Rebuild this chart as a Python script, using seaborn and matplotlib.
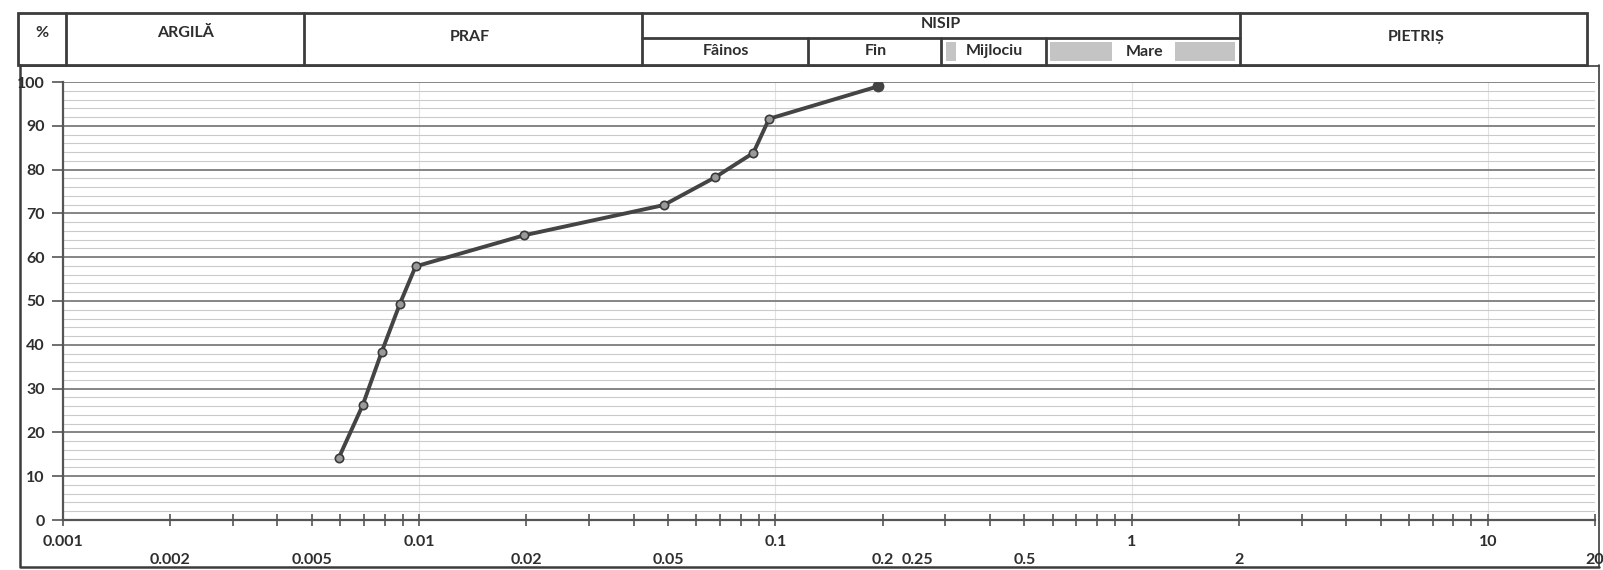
import matplotlib
matplotlib.use('Agg')
import matplotlib.pyplot as plt
from matplotlib.patches import Rectangle
from matplotlib.ticker import LogLocator, NullFormatter, MultipleLocator, FixedLocator
import matplotlib.transforms as mtransforms
import seaborn as sns
import pandas as pd

# Curba granulometrica (diametru mm / % treceri)
diametre = [0.00594, 0.00694, 0.00785, 0.00883, 0.00977, 0.0197, 0.0486, 0.0676, 0.0867, 0.096, 0.194]
treceri = [14.1, 26.2, 38.4, 49.4, 57.9, 65.0, 71.9, 78.2, 83.8, 91.6, 99.0]

# Etichete axa X (doua randuri, ca in original)
etichete_sus = [0.001, 0.01, 0.1, 1, 10]
etichete_jos = [0.002, 0.005, 0.02, 0.05, 0.2, 0.25, 0.5, 2, 20]
y_ticks = list(range(0, 101, 10))

# Capul de tabel
fractii = ['%', 'ARGILĂ', 'PRAF', 'NISIP', 'PIETRIȘ']
subfractii_nisip = ['Fâinos', 'Fin', 'Mijlociu', 'Mare']

sns.set_theme(style="white")
plt.rcParams['font.family'] = ['Lato', 'Open Sans', 'DejaVu Sans']
text_col = '#2e2e2e'
line_col = '#3c3c3c'

df = pd.DataFrame({'d': diametre, 'p': treceri})

fig = plt.figure(figsize=(16.03, 5.70), dpi=100)

# overlay in pixeli pentru tabel si chenar
ov = fig.add_axes([0, 0, 1, 1])
ov.set_xlim(0, 1603)
ov.set_ylim(570, 0)
ov.axis('off')
ov.patch.set_alpha(0)

# chenar exterior grafic
ov.plot([20, 20, 1599], [65, 567, 567], color=line_col, lw=1.8)
ov.plot([1599, 1599], [65, 567], color=line_col, lw=1.2)
ov.plot([20, 1599], [66, 66], color=line_col, lw=1.2)

# tabel fractii
top, mid, bot = 13, 38, 65
ov.add_patch(Rectangle((1050, 42), 62, 19, color='#c4c4c4', lw=0))
ov.add_patch(Rectangle((1175, 42), 60, 19, color='#c4c4c4', lw=0))
ov.add_patch(Rectangle((946, 42), 10, 19, color='#c4c4c4', lw=0))
ov.add_patch(Rectangle((18, top), 1569, bot - top, fill=False, ec=line_col, lw=2))
for x in [66, 304, 642, 1240]:
    ov.plot([x, x], [top, bot], color=line_col, lw=2)
ov.plot([642, 1240], [mid, mid], color=line_col, lw=2)
for x in [808, 941, 1046]:
    ov.plot([x, x], [mid, bot], color=line_col, lw=2)

fs = 11.5
pos_fractii = [(42, 33), (186, 33), (470, 37), (941, 24), (1416, 37)]
for t, (x, y) in zip(fractii, pos_fractii):
    ov.text(x, y, t, ha='center', va='center', fontsize=fs, color=text_col, fontweight='bold')
pos_sub = [(726, 51), (876, 51), (994, 51), (1145, 52)]
for t, (x, y) in zip(subfractii_nisip, pos_sub):
    ov.text(x, y, t, ha='center', va='center', fontsize=fs, color=text_col, fontweight='bold')

# axa principala
ax = fig.add_axes([63 / 1603, 50 / 570, 1532 / 1603, 438 / 570])
ax.patch.set_alpha(0)
ax.set_xscale('log')
ax.set_xlim(0.001, 20)
ax.set_ylim(0, 100)

ax.yaxis.set_major_locator(FixedLocator(y_ticks))
ax.yaxis.set_minor_locator(MultipleLocator(2))
ax.grid(True, which='major', axis='y', color='#858585', lw=1.4)
ax.grid(True, which='minor', axis='y', color='#cacaca', lw=0.8)
ax.grid(True, which='major', axis='x', color='#e2e2e2', lw=0.8)
ax.set_axisbelow(True)

sns.lineplot(data=df, x='d', y='p', ax=ax, sort=False, color='#444444', lw=2.8,
             marker='o', markersize=6, markerfacecolor='#9a9a9a',
             markeredgecolor='#3a3a3a', markeredgewidth=1.2)
ax.plot(diametre[-1], treceri[-1], 'o', color='#444444', markersize=7.5)

for s in ['top', 'right']:
    ax.spines[s].set_visible(False)
for s in ['left', 'bottom']:
    ax.spines[s].set_color('#555555')
    ax.spines[s].set_linewidth(1.6)

ax.xaxis.set_major_locator(LogLocator(base=10))
ax.xaxis.set_minor_locator(LogLocator(base=10, subs=range(2, 10)))
ax.xaxis.set_major_formatter(NullFormatter())
ax.xaxis.set_minor_formatter(NullFormatter())
ax.tick_params(axis='x', which='both', direction='inout', length=8, width=1.2,
               color='#555555', bottom=True)
ax.tick_params(axis='y', which='major', direction='out', length=8, width=1.2,
               color='#555555', left=True, labelsize=fs, labelcolor=text_col, pad=5)
for lab in ax.get_yticklabels():
    lab.set_fontweight('bold')
ax.set_xlabel('')
ax.set_ylabel('')

trans = mtransforms.blended_transform_factory(ax.transData, ax.transAxes)
for v in etichete_sus:
    ax.text(v, -0.035, f'{v:g}', transform=trans, ha='center', va='top',
            fontsize=fs, color=text_col, fontweight='bold')
for v in etichete_jos:
    ax.text(v, -0.075, f'{v:g}', transform=trans, ha='center', va='top',
            fontsize=fs, color=text_col, fontweight='bold')

fig.savefig('out.png', dpi=100, facecolor='white')
